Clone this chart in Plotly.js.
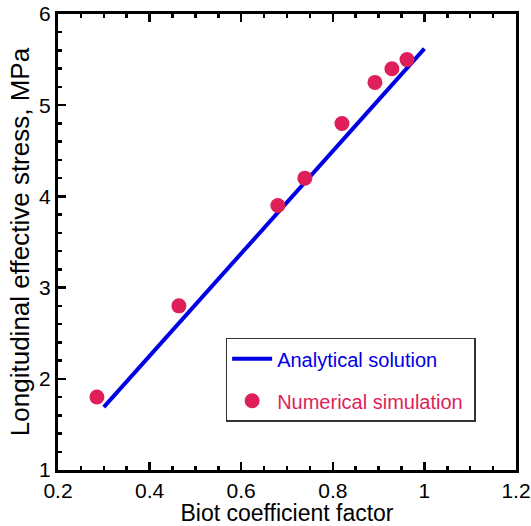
<!DOCTYPE html>
<html><head><meta charset="utf-8">
<script src="https://cdn.plot.ly/plotly-3.0.1.min.js"></script>
<style>html,body{margin:0;padding:0;background:#fff}</style>
</head><body>
<div id="chart" style="width:531px;height:526px"></div>
<script>
const lineX = [0.3, 1.0];
const lineY = [1.69, 5.62];
const simX = [0.285, 0.464, 0.68, 0.739, 0.82, 0.892, 0.929, 0.962];
const simY = [1.8, 2.8, 3.9, 4.2, 4.8, 5.25, 5.4, 5.5];
const xTicks = [0.2, 0.4, 0.6, 0.8, 1, 1.2];
const xTickText = ['0.2', '0.4', '0.6', '0.8', '1', '1.2'];
const yTicks = [1, 2, 3, 4, 5, 6];

const traces = [
  {x: lineX, y: lineY, mode: 'lines', type: 'scatter',
   line: {color: '#0000E6', width: 4},
   name: '<span style="color:#0000E6">Analytical solution</span>', legendgroup: 'a'},
  {x: simX, y: simY, mode: 'markers', type: 'scatter',
   marker: {color: '#DE1F5A', size: 15},
   name: '<span style="color:#DE1F5A">Numerical simulation</span>&nbsp;', legendgroup: 'b'}
];
const layout = {
  width: 531, height: 526,
  margin: {l: 58, r: 15, t: 14, b: 56},
  paper_bgcolor: '#fff', plot_bgcolor: '#fff',
  font: {family: 'Liberation Sans, Arial, sans-serif', size: 21, color: '#000'},
  showlegend: true,
  legend: {x: 0.366, y: 0.29, xanchor: 'left', yanchor: 'top',
    bordercolor: '#333', borderwidth: 1.5, bgcolor: '#fff',
    font: {size: 20}, tracegroupgap: 13, itemwidth: 40},
  xaxis: {range: [0.2, 1.2], tickvals: xTicks, ticktext: xTickText,
    showgrid: false, zeroline: false, showline: true, linecolor: '#000', linewidth: 3,
    mirror: 'ticks', ticks: 'inside', ticklen: 8, tickwidth: 2.5, tickcolor: '#000',
    minor: {dtick: 0.05, ticks: 'inside', ticklen: 4, tickwidth: 2.5, tickcolor: '#000', showgrid: false},
    title: {text: 'Biot coefficient factor', font: {size: 23}, standoff: 0}},
  yaxis: {range: [1, 6], tickvals: yTicks,
    showgrid: false, zeroline: false, showline: true, linecolor: '#000', linewidth: 3,
    mirror: true, ticks: 'inside', ticklen: 8, tickwidth: 2.5, tickcolor: '#000',
    minor: {dtick: 0.2, ticks: 'inside', ticklen: 4, tickwidth: 2.5, tickcolor: '#000', showgrid: false},
    title: {text: 'Longitudinal effective stress, MPa', font: {size: 26}, standoff: 3}}
};
Plotly.newPlot('chart', traces, layout, {displayModeBar: false, staticPlot: true});
</script>
</body></html>
